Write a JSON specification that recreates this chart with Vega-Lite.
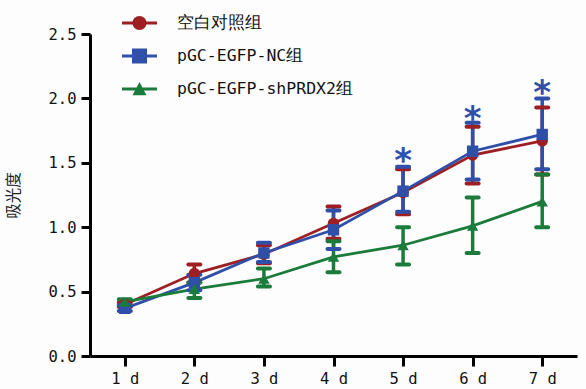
{
  "$schema": "https://vega.github.io/schema/vega-lite/v6.json",
  "width": 487,
  "height": 322,
  "autosize": {"type": "none"},
  "padding": {"left": 90, "top": 34, "right": 9, "bottom": 33},
  "background": "#fdfdfd",
  "config": {
    "view": {"stroke": null},
    "legend": {"rowPadding": 7},
    "axis": {
      "grid": false,
      "domainColor": "#000000",
      "domainWidth": 3,
      "tickColor": "#000000",
      "tickWidth": 3,
      "labelFont": "DejaVu Sans Mono",
      "labelFontSize": 15.5,
      "labelColor": "#111111",
      "titleFont": "Noto Sans CJK SC",
      "titleFontSize": 15.5,
      "titleFontWeight": "normal",
      "titleColor": "#222222"
    }
  },
  "datasets": {
    "main": [
      {"group": "空白对照组", "day": "1 d", "mean": 0.40, "lo": 0.38, "hi": 0.42},
      {"group": "空白对照组", "day": "2 d", "mean": 0.64, "lo": 0.57, "hi": 0.71},
      {"group": "空白对照组", "day": "3 d", "mean": 0.79, "lo": 0.72, "hi": 0.86},
      {"group": "空白对照组", "day": "4 d", "mean": 1.03, "lo": 0.91, "hi": 1.16},
      {"group": "空白对照组", "day": "5 d", "mean": 1.27, "lo": 1.10, "hi": 1.45},
      {"group": "空白对照组", "day": "6 d", "mean": 1.56, "lo": 1.34, "hi": 1.78},
      {"group": "空白对照组", "day": "7 d", "mean": 1.67, "lo": 1.41, "hi": 1.93},
      {"group": "pGC-EGFP-NC组", "day": "1 d", "mean": 0.37, "lo": 0.35, "hi": 0.39},
      {"group": "pGC-EGFP-NC组", "day": "2 d", "mean": 0.57, "lo": 0.51, "hi": 0.63},
      {"group": "pGC-EGFP-NC组", "day": "3 d", "mean": 0.80, "lo": 0.73, "hi": 0.88},
      {"group": "pGC-EGFP-NC组", "day": "4 d", "mean": 0.98, "lo": 0.83, "hi": 1.13},
      {"group": "pGC-EGFP-NC组", "day": "5 d", "mean": 1.28, "lo": 1.12, "hi": 1.47},
      {"group": "pGC-EGFP-NC组", "day": "6 d", "mean": 1.59, "lo": 1.37, "hi": 1.81},
      {"group": "pGC-EGFP-NC组", "day": "7 d", "mean": 1.72, "lo": 1.45, "hi": 2.00},
      {"group": "pGC-EGFP-shPRDX2组", "day": "1 d", "mean": 0.42, "lo": 0.40, "hi": 0.44},
      {"group": "pGC-EGFP-shPRDX2组", "day": "2 d", "mean": 0.52, "lo": 0.45, "hi": 0.57},
      {"group": "pGC-EGFP-shPRDX2组", "day": "3 d", "mean": 0.60, "lo": 0.54, "hi": 0.68},
      {"group": "pGC-EGFP-shPRDX2组", "day": "4 d", "mean": 0.77, "lo": 0.65, "hi": 0.89},
      {"group": "pGC-EGFP-shPRDX2组", "day": "5 d", "mean": 0.86, "lo": 0.71, "hi": 1.00},
      {"group": "pGC-EGFP-shPRDX2组", "day": "6 d", "mean": 1.01, "lo": 0.80, "hi": 1.23},
      {"group": "pGC-EGFP-shPRDX2组", "day": "7 d", "mean": 1.20, "lo": 1.00, "hi": 1.41}
    ],
    "sig": [
      {"day": "5 d", "y": 1.58, "label": "*"},
      {"day": "6 d", "y": 1.91, "label": "*"},
      {"day": "7 d", "y": 2.11, "label": "*"}
    ]
  },
  "data": {"name": "main"},
  "encoding": {
    "x": {
      "field": "day",
      "type": "ordinal",
      "scale": {"type": "point", "padding": 0.5},
      "axis": {"title": null, "labelAngle": 0, "tickSize": 10, "labelPadding": 5}
    }
  },
  "layer": [
    {
      "mark": {"type": "line", "strokeWidth": 2.8},
      "encoding": {
        "y": {
          "field": "mean",
          "type": "quantitative",
          "scale": {"domain": [0, 2.5], "nice": false},
          "axis": {"title": "吸光度", "values": [0, 0.5, 1, 1.5, 2, 2.5], "format": ".1f", "tickSize": 9, "labelPadding": 5, "titleX": -69}
        },
        "color": {
          "field": "group",
          "type": "nominal",
          "scale": {"domain": ["空白对照组", "pGC-EGFP-NC组", "pGC-EGFP-shPRDX2组"], "range": ["#9E1F23", "#2F4FA8", "#1B7B3B"]},
          "legend": null
        }
      }
    },
    {
      "mark": {"type": "rule", "strokeWidth": 3.5},
      "encoding": {
        "y": {"field": "lo", "type": "quantitative"},
        "y2": {"field": "hi"},
        "color": {"field": "group", "type": "nominal", "legend": null}
      }
    },
    {
      "mark": {"type": "tick", "thickness": 4, "size": 16, "cornerRadius": 2, "opacity": 1},
      "encoding": {
        "y": {"field": "lo", "type": "quantitative"},
        "color": {"field": "group", "type": "nominal", "legend": null}
      }
    },
    {
      "mark": {"type": "tick", "thickness": 4, "size": 16, "cornerRadius": 2, "opacity": 1},
      "encoding": {
        "y": {"field": "hi", "type": "quantitative"},
        "color": {"field": "group", "type": "nominal", "legend": null}
      }
    },
    {
      "mark": {"type": "point", "filled": true, "opacity": 1, "size": 130},
      "encoding": {
        "y": {"field": "mean", "type": "quantitative"},
        "color": {"field": "group", "type": "nominal", "legend": null},
        "shape": {
          "field": "group",
          "type": "nominal",
          "scale": {"domain": ["空白对照组", "pGC-EGFP-NC组", "pGC-EGFP-shPRDX2组"], "range": ["circle", "square", "triangle-up"]},
          "legend": null
        }
      }
    },
    {
      "transform": [{"filter": "false"}],
      "mark": {"type": "point", "filled": true, "opacity": 1},
      "encoding": {
        "y": {"field": "mean", "type": "quantitative"},
        "color": {
          "field": "group",
          "type": "nominal",
          "legend": {
            "title": null,
            "orient": "none",
            "legendX": 32,
            "legendY": -28.5,
            "padding": 0,
            "symbolSize": 1225,
            "symbolStrokeWidth": 0,
            "symbolOpacity": 1,
            "rowPadding": 7,
            "labelOffset": 20,
            "labelFont": "DejaVu Sans Mono",
            "labelFontSize": 16.5,
            "labelColor": "#111111",
            "labelLimit": 400
          }
        },
        "shape": {
          "field": "group",
          "type": "nominal",
          "scale": {
            "domain": ["空白对照组", "pGC-EGFP-NC组", "pGC-EGFP-shPRDX2组"],
            "range": [
              "M-1,-0.085H1V0.085H-1Z M0.4,0A0.4,0.4 0 1,1 -0.4,0A0.4,0.4 0 1,1 0.4,0Z",
              "M-1,-0.085H1V0.085H-1Z M-0.43,-0.43H0.43V0.43H-0.43Z",
              "M-1,-0.085H1V0.085H-1Z M0,-0.4L0.4,0.35L-0.4,0.35Z"
            ]
          },
          "legend": {
            "title": null,
            "orient": "none",
            "legendX": 32,
            "legendY": -28.5,
            "padding": 0,
            "symbolSize": 1225,
            "symbolStrokeWidth": 0,
            "symbolOpacity": 1,
            "rowPadding": 7,
            "labelOffset": 20,
            "labelFont": "DejaVu Sans Mono",
            "labelFontSize": 16.5,
            "labelColor": "#111111",
            "labelLimit": 400
          }
        }
      }
    },
    {
      "data": {"name": "sig"},
      "mark": {"type": "text", "color": "#2F4FA8", "font": "DejaVu Sans", "fontWeight": "bold", "fontSize": 34, "baseline": "alphabetic", "dy": 20},
      "encoding": {
        "y": {"field": "y", "type": "quantitative"},
        "text": {"field": "label"}
      }
    }
  ],
  "resolve": {
    "scale": {"shape": "independent"},
    "legend": {"color": "independent", "shape": "independent"}
  }
}
